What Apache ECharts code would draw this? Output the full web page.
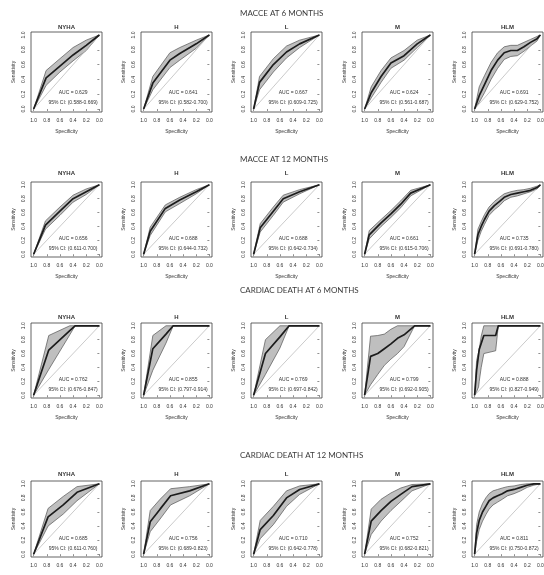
<!DOCTYPE html>
<html><head><meta charset="utf-8">
<script src="https://cdn.jsdelivr.net/npm/echarts@6/dist/echarts.min.js"></script>
<style>html,body{margin:0;padding:0;background:#fff}#c{width:544px;height:575px}</style>
</head><body><div id="c"></div>
<script>
// ---------------- DATA ----------------
const rowTitles = ['MACCE AT 6 MONTHS', 'MACCE AT 12 MONTHS', 'CARDIAC DEATH AT 6 MONTHS', 'CARDIAC DEATH AT 12 MONTHS'];
const panelNames = ['NYHA', 'H', 'L', 'M', 'HLM'];
const tickValues = [0, 0.2, 0.4, 0.6, 0.8, 1];
const tickLabels = ['0.0', '0.2', '0.4', '0.6', '0.8', '1.0'];
const aucLabels = [
  ['AUC = 0.629', 'AUC = 0.641', 'AUC = 0.667', 'AUC = 0.624', 'AUC = 0.691'],
  ['AUC = 0.656', 'AUC = 0.688', 'AUC = 0.688', 'AUC = 0.661', 'AUC = 0.735'],
  ['AUC = 0.762', 'AUC = 0.855', 'AUC = 0.769', 'AUC = 0.799', 'AUC = 0.888'],
  ['AUC = 0.685', 'AUC = 0.756', 'AUC = 0.710', 'AUC = 0.752', 'AUC = 0.811']
];
const ciLabels = [
  ['95% CI: (0.588-0.669)', '95% CI: (0.582-0.700)', '95% CI: (0.609-0.725)', '95% CI: (0.561-0.687)', '95% CI: (0.629-0.752)'],
  ['95% CI: (0.611-0.700)', '95% CI: (0.644-0.732)', '95% CI: (0.642-0.734)', '95% CI: (0.615-0.706)', '95% CI: (0.691-0.780)'],
  ['95% CI: (0.676-0.847)', '95% CI: (0.797-0.914)', '95% CI: (0.697-0.842)', '95% CI: (0.692-0.905)', '95% CI: (0.827-0.949)'],
  ['95% CI: (0.611-0.760)', '95% CI: (0.689-0.823)', '95% CI: (0.642-0.778)', '95% CI: (0.682-0.821)', '95% CI: (0.750-0.872)']
];
const diagSpec = [1, 0];
const diagSens = [0, 1];

// MACCE 6 months
const m6_NYHA_spec = [1, 0.81, 0.6, 0.4, 0.2, 0];
const m6_NYHA_sens = [0, 0.42, 0.58, 0.73, 0.86, 1];
const m6_NYHA_lo   = [0, 0.32, 0.5, 0.65, 0.79, 1];
const m6_NYHA_hi   = [0, 0.52, 0.68, 0.83, 0.93, 1];
const m6_H_spec = [1, 0.86, 0.6, 0.45, 0.2, 0];
const m6_H_sens = [0, 0.35, 0.66, 0.75, 0.88, 1];
const m6_H_lo   = [0, 0.26, 0.56, 0.66, 0.82, 1];
const m6_H_hi   = [0, 0.44, 0.76, 0.83, 0.93, 1];
const m6_L_spec = [1, 0.91, 0.7, 0.5, 0.3, 0];
const m6_L_sens = [0, 0.36, 0.6, 0.77, 0.88, 1];
const m6_L_lo   = [0, 0.26, 0.5, 0.69, 0.83, 1];
const m6_L_hi   = [0, 0.44, 0.68, 0.85, 0.93, 1];
const m6_M_spec = [1, 0.9, 0.75, 0.6, 0.4, 0.2, 0];
const m6_M_sens = [0, 0.22, 0.44, 0.62, 0.72, 0.88, 1];
const m6_M_lo   = [0, 0.15, 0.36, 0.55, 0.66, 0.83, 1];
const m6_M_hi   = [0, 0.3, 0.52, 0.69, 0.79, 0.93, 1];
const m6_HLM_spec = [1, 0.93, 0.85, 0.75, 0.65, 0.55, 0.45, 0.35, 0.25, 0.15, 0.05, 0];
const m6_HLM_sens = [0, 0.18, 0.33, 0.52, 0.66, 0.76, 0.79, 0.79, 0.84, 0.9, 0.95, 1];
const m6_HLM_lo   = [0, 0.09, 0.22, 0.4, 0.55, 0.67, 0.71, 0.72, 0.78, 0.85, 0.92, 1];
const m6_HLM_hi   = [0, 0.3, 0.45, 0.63, 0.76, 0.84, 0.86, 0.86, 0.9, 0.94, 0.98, 1];

// MACCE 12 months
const m12_NYHA_spec = [1, 0.82, 0.6, 0.4, 0.2, 0];
const m12_NYHA_sens = [0, 0.42, 0.62, 0.8, 0.9, 1];
const m12_NYHA_lo   = [0, 0.36, 0.56, 0.75, 0.86, 1];
const m12_NYHA_hi   = [0, 0.48, 0.68, 0.85, 0.94, 1];
const m12_H_spec = [1, 0.9, 0.67, 0.45, 0.2, 0];
const m12_H_sens = [0, 0.33, 0.66, 0.78, 0.9, 1];
const m12_H_lo   = [0, 0.27, 0.61, 0.73, 0.87, 1];
const m12_H_hi   = [0, 0.39, 0.71, 0.82, 0.93, 1];
const m12_L_spec = [1, 0.9, 0.7, 0.55, 0.3, 0];
const m12_L_sens = [0, 0.38, 0.62, 0.8, 0.9, 1];
const m12_L_lo   = [0, 0.32, 0.56, 0.75, 0.87, 1];
const m12_L_hi   = [0, 0.44, 0.68, 0.85, 0.93, 1];
const m12_M_spec = [1, 0.93, 0.75, 0.6, 0.45, 0.3, 0];
const m12_M_sens = [0, 0.28, 0.45, 0.58, 0.72, 0.88, 1];
const m12_M_lo   = [0, 0.22, 0.4, 0.53, 0.67, 0.84, 1];
const m12_M_hi   = [0, 0.34, 0.5, 0.63, 0.77, 0.92, 1];
const m12_HLM_spec = [1, 0.95, 0.9, 0.85, 0.78, 0.7, 0.62, 0.55, 0.45, 0.35, 0.25, 0.15, 0.05, 0];
const m12_HLM_sens = [0, 0.28, 0.4, 0.5, 0.62, 0.7, 0.76, 0.82, 0.86, 0.88, 0.9, 0.92, 0.96, 1];
const m12_HLM_lo   = [0, 0.2, 0.33, 0.43, 0.56, 0.64, 0.7, 0.77, 0.82, 0.84, 0.87, 0.9, 0.94, 1];
const m12_HLM_hi   = [0, 0.36, 0.47, 0.57, 0.68, 0.76, 0.82, 0.87, 0.9, 0.92, 0.93, 0.95, 0.98, 1];

// Cardiac death 6 months
const d6_NYHA_spec = [1, 0.77, 0.45, 0.37, 0];
const d6_NYHA_sens = [0, 0.65, 0.93, 1, 1];
const d6_NYHA_lo   = [0, 0.37, 0.87, 1, 1];
const d6_NYHA_hi   = [0, 0.86, 1, 1, 1];
const d6_H_spec = [1, 0.86, 0.66, 0.55, 0];
const d6_H_sens = [0, 0.67, 0.88, 1, 1];
const d6_H_lo   = [0, 0.36, 0.75, 1, 1];
const d6_H_hi   = [0, 0.86, 1, 1, 1];
const d6_L_spec = [1, 0.82, 0.6, 0.46, 0];
const d6_L_sens = [0, 0.6, 0.84, 1, 1];
const d6_L_lo   = [0, 0.3, 0.68, 1, 1];
const d6_L_hi   = [0, 0.8, 1, 1, 1];
const d6_M_spec = [1, 0.91, 0.8, 0.7, 0.6, 0.5, 0.4, 0.24, 0];
const d6_M_sens = [0, 0.56, 0.6, 0.67, 0.74, 0.82, 0.87, 1, 1];
const d6_M_lo   = [0, 0.15, 0.3, 0.43, 0.52, 0.6, 0.7, 1, 1];
const d6_M_hi   = [0, 0.85, 0.86, 0.88, 0.95, 1, 1, 1, 1];
const d6_HLM_spec = [1, 0.97, 0.94, 0.93, 0.9, 0.86, 0.68, 0.64, 0];
const d6_HLM_sens = [0, 0.36, 0.36, 0.66, 0.66, 0.86, 0.86, 1, 1];
const d6_HLM_lo   = [0, 0.05, 0.12, 0.2, 0.4, 0.6, 0.64, 1, 1];
const d6_HLM_hi   = [0, 0.5, 0.62, 0.66, 0.85, 1, 1, 1, 1];

// Cardiac death 12 months
const d12_NYHA_spec = [1, 0.78, 0.55, 0.34, 0];
const d12_NYHA_sens = [0, 0.53, 0.7, 0.88, 1];
const d12_NYHA_lo   = [0, 0.4, 0.57, 0.76, 1];
const d12_NYHA_hi   = [0, 0.65, 0.82, 0.96, 1];
const d12_H_spec = [1, 0.9, 0.75, 0.59, 0.3, 0];
const d12_H_sens = [0, 0.46, 0.64, 0.83, 0.9, 1];
const d12_H_lo   = [0, 0.32, 0.5, 0.7, 0.83, 1];
const d12_H_hi   = [0, 0.62, 0.78, 0.93, 0.96, 1];
const d12_L_spec = [1, 0.9, 0.7, 0.5, 0.3, 0];
const d12_L_sens = [0, 0.35, 0.55, 0.8, 0.92, 1];
const d12_L_lo   = [0, 0.22, 0.42, 0.68, 0.85, 1];
const d12_L_hi   = [0, 0.48, 0.68, 0.9, 0.97, 1];
const d12_M_spec = [1, 0.9, 0.75, 0.6, 0.45, 0.28, 0];
const d12_M_sens = [0, 0.47, 0.62, 0.75, 0.85, 0.96, 1];
const d12_M_lo   = [0, 0.28, 0.47, 0.62, 0.75, 0.9, 1];
const d12_M_hi   = [0, 0.64, 0.78, 0.87, 0.94, 0.99, 1];
const d12_HLM_spec = [1, 0.97, 0.93, 0.88, 0.83, 0.78, 0.72, 0.65, 0.58, 0.5, 0.4, 0.3, 0.2, 0.1, 0];
const d12_HLM_sens = [0, 0.3, 0.48, 0.6, 0.68, 0.76, 0.8, 0.83, 0.86, 0.9, 0.92, 0.95, 0.98, 1, 1];
const d12_HLM_lo   = [0, 0.18, 0.35, 0.47, 0.56, 0.64, 0.7, 0.74, 0.78, 0.83, 0.86, 0.9, 0.95, 0.98, 1];
const d12_HLM_hi   = [0, 0.42, 0.6, 0.72, 0.8, 0.86, 0.9, 0.92, 0.94, 0.96, 0.97, 0.99, 1, 1, 1];

const panels = [
  [[m6_NYHA_spec, m6_NYHA_sens, m6_NYHA_lo, m6_NYHA_hi], [m6_H_spec, m6_H_sens, m6_H_lo, m6_H_hi], [m6_L_spec, m6_L_sens, m6_L_lo, m6_L_hi], [m6_M_spec, m6_M_sens, m6_M_lo, m6_M_hi], [m6_HLM_spec, m6_HLM_sens, m6_HLM_lo, m6_HLM_hi]],
  [[m12_NYHA_spec, m12_NYHA_sens, m12_NYHA_lo, m12_NYHA_hi], [m12_H_spec, m12_H_sens, m12_H_lo, m12_H_hi], [m12_L_spec, m12_L_sens, m12_L_lo, m12_L_hi], [m12_M_spec, m12_M_sens, m12_M_lo, m12_M_hi], [m12_HLM_spec, m12_HLM_sens, m12_HLM_lo, m12_HLM_hi]],
  [[d6_NYHA_spec, d6_NYHA_sens, d6_NYHA_lo, d6_NYHA_hi], [d6_H_spec, d6_H_sens, d6_H_lo, d6_H_hi], [d6_L_spec, d6_L_sens, d6_L_lo, d6_L_hi], [d6_M_spec, d6_M_sens, d6_M_lo, d6_M_hi], [d6_HLM_spec, d6_HLM_sens, d6_HLM_lo, d6_HLM_hi]],
  [[d12_NYHA_spec, d12_NYHA_sens, d12_NYHA_lo, d12_NYHA_hi], [d12_H_spec, d12_H_sens, d12_H_lo, d12_H_hi], [d12_L_spec, d12_L_sens, d12_L_lo, d12_L_hi], [d12_M_spec, d12_M_sens, d12_M_lo, d12_M_hi], [d12_HLM_spec, d12_HLM_sens, d12_HLM_lo, d12_HLM_hi]]
];

// ---------------- LAYOUT ----------------
const colLeft = [31, 141, 251, 362, 472];
const boxW = 71;
const rowTop = [32, 182, 323, 481];
const rowH = [80, 75, 75, 76];
const rowTitleY = [14, 160, 291, 456];
const panelTitleY = [27, 173, 317, 474];
const FONT = '"Liberation Sans", Arial, sans-serif';

const chart = echarts.init(document.getElementById('c'), null, { renderer: 'canvas' });
const grids = [], xAxes = [], yAxes = [], series = [], graphics = [];

rowTitles.forEach((t, r) => {
  graphics.push({ type: 'text', left: 240, top: rowTitleY[r] - 5,
    style: { text: t, font: '8px Lato, "Open Sans", sans-serif', fill: '#3a3a3a' } });
});

let gi = 0;
for (let r = 0; r < 4; r++) {
  for (let c = 0; c < 5; c++) {
    const [spec, sens, lo, hi] = panels[r][c];
    grids.push({ left: colLeft[c], top: rowTop[r], width: boxW, height: rowH[r],
      outerBoundsMode: 'none', containLabel: false,
      show: true, borderColor: '#3c3c3c', borderWidth: 0.8, backgroundColor: 'transparent' });
    xAxes.push({ type: 'value', gridIndex: gi, min: -0.04, max: 1.04, inverse: true,
      splitLine: { show: false }, axisLine: { show: false },
      axisTick: { show: true, length: 2, customValues: tickValues, lineStyle: { color: '#444', width: 0.6 } },
      axisLabel: { show: true, customValues: tickValues, fontSize: 5, color: '#333', margin: 6, fontFamily: FONT,
        hideOverlap: false,
        formatter: v => tickLabels[tickValues.indexOf(Math.round(v * 10) / 10)] },
      name: r < 3 ? 'Specificity' : '', nameLocation: 'middle', nameGap: 17,
      nameTextStyle: { fontSize: 5, color: '#333', fontFamily: FONT } });
    yAxes.push({ type: 'value', gridIndex: gi, min: -0.04, max: 1.04,
      splitLine: { show: false }, axisLine: { show: false },
      axisTick: { show: true, length: 2, customValues: tickValues, lineStyle: { color: '#444', width: 0.6 } },
      axisLabel: { show: true, customValues: tickValues, fontSize: 5, color: '#333', margin: 5, rotate: 90, fontFamily: FONT,
        hideOverlap: false,
        formatter: v => tickLabels[tickValues.indexOf(Math.round(v * 10) / 10)] },
      name: 'Sensitivity', nameLocation: 'middle', nameGap: 15, nameRotate: 90,
      nameTextStyle: { fontSize: 5, color: '#333', fontFamily: FONT } });
    // diagonal
    series.push({ type: 'line', xAxisIndex: gi, yAxisIndex: gi, showSymbol: false, silent: true,
      data: diagSpec.map((s, i) => [s, diagSens[i]]), lineStyle: { color: '#bdbdbd', width: 0.8 } });
    // CI band
    series.push({ type: 'custom', xAxisIndex: gi, yAxisIndex: gi, silent: true,
      data: spec.map((s, i) => [s, lo[i], hi[i]]), encode: { x: 0, y: [1, 2] },
      renderItem: (params, api) => {
        if (params.dataIndex !== 0) return null;
        const pts = [];
        for (let i = 0; i < spec.length; i++) pts.push(api.coord([spec[i], hi[i]]));
        for (let i = spec.length - 1; i >= 0; i--) pts.push(api.coord([spec[i], lo[i]]));
        return { type: 'polygon', shape: { points: pts },
          style: { fill: '#bfbfbf', stroke: '#555', lineWidth: 0.7 } };
      } });
    // ROC curve
    series.push({ type: 'line', xAxisIndex: gi, yAxisIndex: gi, showSymbol: false, silent: true,
      data: spec.map((s, i) => [s, sens[i]]), lineStyle: { color: '#1c1c1c', width: 1.7 } });
    // panel title
    graphics.push({ type: 'text', x: colLeft[c] + boxW / 2, y: panelTitleY[r],
      style: { text: panelNames[c], font: 'bold 6px ' + FONT, fill: '#333', align: 'center', verticalAlign: 'middle' } });
    gi++;
  }
}

chart.setOption({
  animation: false,
  backgroundColor: '#fff',
  grid: grids, xAxis: xAxes, yAxis: yAxes, series: series, graphic: graphics
});

// AUC / CI texts placed at data coordinates
const extra = [];
gi = 0;
for (let r = 0; r < 4; r++) {
  for (let c = 0; c < 5; c++) {
    const p1 = chart.convertToPixel({ gridIndex: gi }, [0.4, 0.22]);
    const p2 = chart.convertToPixel({ gridIndex: gi }, [0.4, 0.08]);
    extra.push({ type: 'text', x: p1[0], y: p1[1], style: { text: aucLabels[r][c], font: '5px ' + FONT, fill: '#333', align: 'center', verticalAlign: 'middle' } });
    extra.push({ type: 'text', x: p2[0], y: p2[1], style: { text: ciLabels[r][c], font: '5px ' + FONT, fill: '#333', align: 'center', verticalAlign: 'middle' } });
    gi++;
  }
}
chart.setOption({ graphic: graphics.concat(extra) });
</script>
</body></html>
